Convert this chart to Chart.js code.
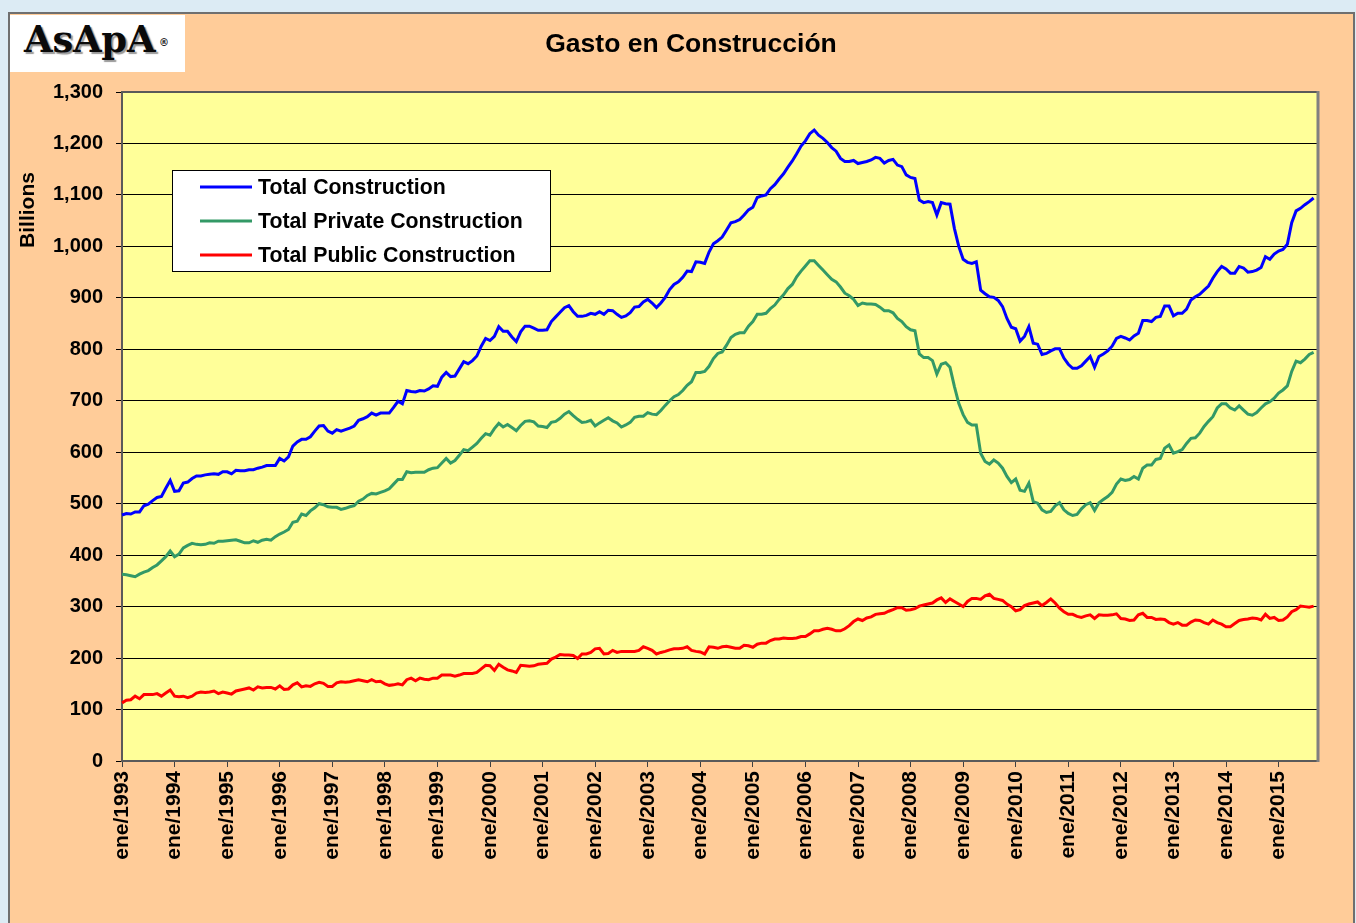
<!DOCTYPE html>
<html>
<head>
<meta charset="utf-8">
<title>Gasto en Construcción</title>
<script src="https://cdn.jsdelivr.net/npm/chart.js@4.4.1/dist/chart.umd.min.js"></script>
<style>
  html, body { margin: 0; padding: 0; }
  body { width: 1356px; height: 923px; background: #dcebf4; overflow: hidden; position: relative; }
  #panel { position: absolute; left: 8px; top: 12px; width: 1347px; height: 915px; background: #ffcc99;
           border: 2px solid #6f6f6f; box-sizing: border-box; }
  #logo { position: absolute; left: 10px; top: 15px; width: 175px; height: 57px; background: #fff; }
  #logo .name { position: absolute; left: 14px; top: 6px; font: bold 37px/37px "DejaVu Serif", serif;
                color: #0a0a0a; text-shadow: 2px 2px 1px #999; letter-spacing: -0.3px; }
  #logo .reg { position: absolute; left: 149px; top: 23px; font: bold 10px/10px "DejaVu Sans", sans-serif; color: #222; }
  canvas { position: absolute; left: 0; top: 0; }
</style>
</head>
<body>
<div id="panel"></div>
<div id="logo"><span class="name">AsApA</span><span class="reg">®</span></div>
<canvas id="chart" width="1356" height="923"></canvas>
<script>
// monthly, ene/1993 .. sep/2015 (billions)
const monthNames = ['ene', 'feb', 'mar', 'abr', 'may', 'jun', 'jul', 'ago', 'sep', 'oct', 'nov', 'dic'];
const firstYear = 1993;
const monthCount = 274; // axis runs one month past the last value

const totalConstruction = [
  478, 481, 480, 484, 484, 496, 499, 506, 512, 514, 530, 545,
  524, 525, 540, 542, 549, 554, 554, 556, 557, 558, 557, 562,
  562, 558, 565, 564, 564, 566, 566, 569, 571, 574, 574, 574,
  588, 583, 591, 612, 620, 625, 625, 630, 641, 651, 652, 641,
  637, 644, 641, 644, 647, 651, 662, 665, 669, 676, 672, 676,
  676, 676, 687, 699, 694, 720, 718, 717, 720, 719, 723, 729,
  728, 746, 755, 747, 748, 762, 776, 772, 778, 787, 806, 821,
  817, 825, 844, 835, 835, 824, 815, 834, 845, 845, 841, 837,
  837, 838, 854, 863, 872, 881, 885, 873, 864, 864, 866, 870,
  868, 873, 868, 876, 875, 868, 862, 865, 871, 882, 883, 892,
  897, 890, 881, 890, 901, 916, 926, 931, 940, 952, 951, 970,
  969, 967, 989, 1005, 1011, 1018, 1032, 1046, 1048, 1052, 1061, 1071,
  1076, 1095, 1098, 1100, 1112, 1120, 1131, 1141, 1154, 1166, 1180, 1195,
  1205, 1219, 1226, 1216, 1210, 1202, 1192, 1185, 1171, 1165, 1165, 1167,
  1161, 1163, 1165, 1168, 1173, 1171, 1162, 1167, 1169, 1158, 1155, 1139,
  1134, 1132, 1090, 1085, 1087, 1085, 1061, 1085, 1083, 1082, 1035, 1000,
  975, 969, 967, 970, 915, 908, 902, 901, 895, 883, 860, 843,
  840, 816, 825, 844, 812, 810, 790, 792, 797, 801, 801, 783,
  771, 763, 763, 768, 777, 786, 765, 786, 791, 797, 806, 821,
  825, 822, 818, 826, 831, 856, 856, 854, 862, 864, 884, 884,
  865, 870, 870, 878, 896, 902, 907, 915, 923, 938, 951, 961,
  956, 948, 948, 961, 958, 950, 951, 954, 959, 980, 975, 985,
  991, 994, 1004, 1046, 1069, 1074, 1081, 1087, 1094
];

const privateConstruction = [
  363, 362, 360, 358, 363, 367, 370, 376, 381, 389, 397, 408,
  397, 402, 414, 419, 423, 421, 420, 421, 424, 423, 427, 427,
  428, 429, 430, 427, 424, 424, 428, 425, 429, 431, 429, 436,
  441, 445, 450, 464, 466, 480, 477, 486, 492, 500, 498, 494,
  493, 493, 489, 491, 494, 496, 505, 509, 516, 520, 519, 522,
  525, 529, 538, 547, 547, 562, 560, 561, 561, 561, 566, 569,
  570, 579, 588, 579, 584, 594, 605, 603, 610, 617, 627, 636,
  633, 646, 656, 649, 654, 648, 642, 652, 660, 661, 659, 651,
  650, 648, 658, 660, 666, 674, 679, 671, 664, 658, 659, 662,
  651, 657, 662, 667, 661, 657, 649, 653, 658, 668, 670, 670,
  677, 674, 673, 681, 691, 700, 708, 712, 720, 730, 737, 755,
  755, 757, 767, 782, 792, 795, 808, 823, 829, 832, 832, 845,
  854, 868, 868, 870, 879, 886, 897, 906, 918, 926, 941, 952,
  962, 972, 972, 963, 954, 945, 936, 931, 921, 909, 904, 897,
  885, 890, 888, 888, 887, 882, 875, 875, 871, 860, 854, 844,
  838, 836, 791, 784, 784, 778, 752, 771, 774, 765, 728, 695,
  673, 658, 653, 653, 598, 582, 577, 585, 579, 569, 553, 541,
  548, 526, 524, 540, 504, 501, 488, 483, 485, 496, 502, 488,
  481, 477, 479, 490, 498, 502, 487, 502, 508, 514, 522, 538,
  548, 545, 547, 553, 548, 569, 575, 575, 586, 588, 608, 614,
  598, 601, 605, 617, 627, 628, 637, 650, 660, 669, 686, 694,
  694, 686, 682, 690, 682, 674, 672, 677, 686, 694, 698, 705,
  715, 721, 729, 757, 777, 774, 781, 790, 794
];

const publicConstruction = [
  113, 118, 119, 126, 121, 129, 129, 129, 131, 126, 132, 138,
  126, 125, 126, 123, 126, 132, 134, 133, 134, 136, 131, 134,
  132, 130, 136, 138, 140, 142, 138, 144, 142, 143, 143, 140,
  146, 139, 140, 148, 152, 144, 146, 145, 150, 153, 151, 145,
  145, 152, 154, 153, 154, 156, 158, 156, 154, 158, 154, 155,
  150, 147, 148, 150, 148, 158, 161, 156, 161, 159, 158, 161,
  161, 167, 167, 167, 165, 167, 170, 170, 170, 172, 179, 186,
  185, 176, 188, 182, 177, 175, 172, 186, 185, 184, 185, 188,
  189, 190, 198, 202, 207, 206, 206, 205, 199, 208, 208, 211,
  218, 219, 208, 209, 215, 211, 213, 213, 213, 213, 215, 222,
  219, 215, 208, 211, 213, 216, 218, 218, 219, 222, 215, 213,
  212, 208, 222, 221, 219, 222, 223, 221, 219, 219, 225, 224,
  221, 227, 229, 229, 234, 237, 237, 239, 238, 238, 239, 242,
  242, 247, 253, 253, 256, 258, 256, 253, 253, 257, 263, 271,
  276, 273, 278, 280, 285, 286, 287, 291, 294, 298, 298, 293,
  294, 296, 301, 303, 305, 307, 313, 317, 308, 315, 310, 305,
  300, 310, 316, 316, 314, 321, 324, 316, 314, 312, 305, 300,
  292, 294, 302, 305, 307, 309, 302, 308, 315, 307, 297, 290,
  285, 285, 281, 279, 282, 284, 277, 284, 283, 283, 284, 286,
  277, 276, 273, 274, 284, 287, 279, 279, 275, 276, 275, 269,
  266, 269, 264, 264, 270, 274, 273, 269, 266, 274, 269, 266,
  261, 261, 267, 273, 275, 276, 278, 277, 274, 285, 277, 279,
  273, 274, 280, 290, 294, 301, 300, 299, 301
];

const seriesNames = ['Total Construction', 'Total Private Construction', 'Total Public Construction'];
const seriesColors = ['#0000ff', '#339966', '#ff0000'];

const categories = [];
for (let i = 0; i < monthCount; i++) {
  categories.push(monthNames[i % 12] + '/' + (firstYear + Math.floor(i / 12)));
}

const FONT = '"Liberation Sans", Arial, sans-serif';

const decorations = {
  id: 'decorations',
  beforeDraw(chart) {
    const { ctx, chartArea: a } = chart;
    ctx.save();
    ctx.fillStyle = '#ffff99';
    ctx.fillRect(a.left, a.top, a.right - a.left, a.bottom - a.top);
    ctx.restore();
  },
  beforeDatasetsDraw(chart) {
    const { ctx, chartArea: a } = chart;
    ctx.save();
    ctx.strokeStyle = '#5a5a5a';
    ctx.lineWidth = 2;
    ctx.strokeRect(a.left, a.top, a.right - a.left, a.bottom - a.top);
    ctx.strokeStyle = '#808080';
    ctx.lineWidth = 3;
    ctx.beginPath();
    ctx.moveTo(a.right, a.top - 1);
    ctx.lineTo(a.right, a.bottom + 1);
    ctx.stroke();
    ctx.restore();
  },
  afterDraw(chart) {
    const ctx = chart.ctx;
    ctx.save();
    ctx.fillStyle = '#000';
    ctx.textBaseline = 'middle';

    // title
    ctx.font = 'bold 26.5px ' + FONT;
    ctx.textAlign = 'center';
    ctx.fillText('Gasto en Construcción', 691, 45);

    // axis caption
    ctx.save();
    ctx.translate(28, 210);
    ctx.rotate(-Math.PI / 2);
    ctx.font = 'bold 21px ' + FONT;
    ctx.fillText('Billions', 0, 0);
    ctx.restore();

    // legend
    ctx.fillStyle = '#fff';
    ctx.fillRect(172.5, 170.5, 378, 101);
    ctx.strokeStyle = '#000';
    ctx.lineWidth = 1;
    ctx.strokeRect(172.5, 170.5, 378, 101);
    ctx.font = 'bold 21.3px ' + FONT;
    ctx.textAlign = 'left';
    chart.data.datasets.forEach((ds, i) => {
      const y = 187 + i * 34;
      ctx.strokeStyle = ds.borderColor;
      ctx.lineWidth = 3;
      ctx.beginPath();
      ctx.moveTo(200, y);
      ctx.lineTo(252, y);
      ctx.stroke();
      ctx.fillStyle = '#000';
      ctx.fillText(ds.label, 258, y + 1);
    });
    ctx.restore();
  }
};

const ctx = document.getElementById('chart').getContext('2d');
new Chart(ctx, {
  type: 'line',
  data: {
    labels: categories,
    datasets: [
      { label: seriesNames[0], data: totalConstruction, borderColor: seriesColors[0] },
      { label: seriesNames[1], data: privateConstruction, borderColor: seriesColors[1] },
      { label: seriesNames[2], data: publicConstruction, borderColor: seriesColors[2] }
    ]
  },
  options: {
    responsive: false,
    animation: false,
    devicePixelRatio: 1,
    layout: { padding: { left: 8, top: 92, right: 38, bottom: 0 } },
    elements: {
      point: { radius: 0 },
      line: { borderWidth: 3, tension: 0, fill: false }
    },
    plugins: {
      legend: { display: false },
      title: { display: false },
      tooltip: { enabled: false }
    },
    scales: {
      x: {
        grid: { drawOnChartArea: false, color: '#404040', tickLength: 6 },
        border: { display: false },
        ticks: {
          autoSkip: false,
          minRotation: 90,
          maxRotation: 90,
          padding: 4,
          color: '#000',
          font: { family: FONT, size: 21, weight: 'bold' },
          callback: (v, i) => (i % 12 === 0 ? categories[i] : null)
        },
        afterFit: (s) => { s.height = 162; }
      },
      y: {
        min: 0,
        max: 1300,
        grid: { color: '#000', tickLength: 6 },
        border: { display: false },
        ticks: {
          stepSize: 100,
          padding: 13,
          color: '#000',
          font: { family: FONT, size: 20, weight: 'bold' },
          callback: (v) => v.toLocaleString('en-US')
        },
        afterFit: (s) => { s.width = 114; }
      }
    }
  },
  plugins: [decorations]
});
</script>
</body>
</html>
